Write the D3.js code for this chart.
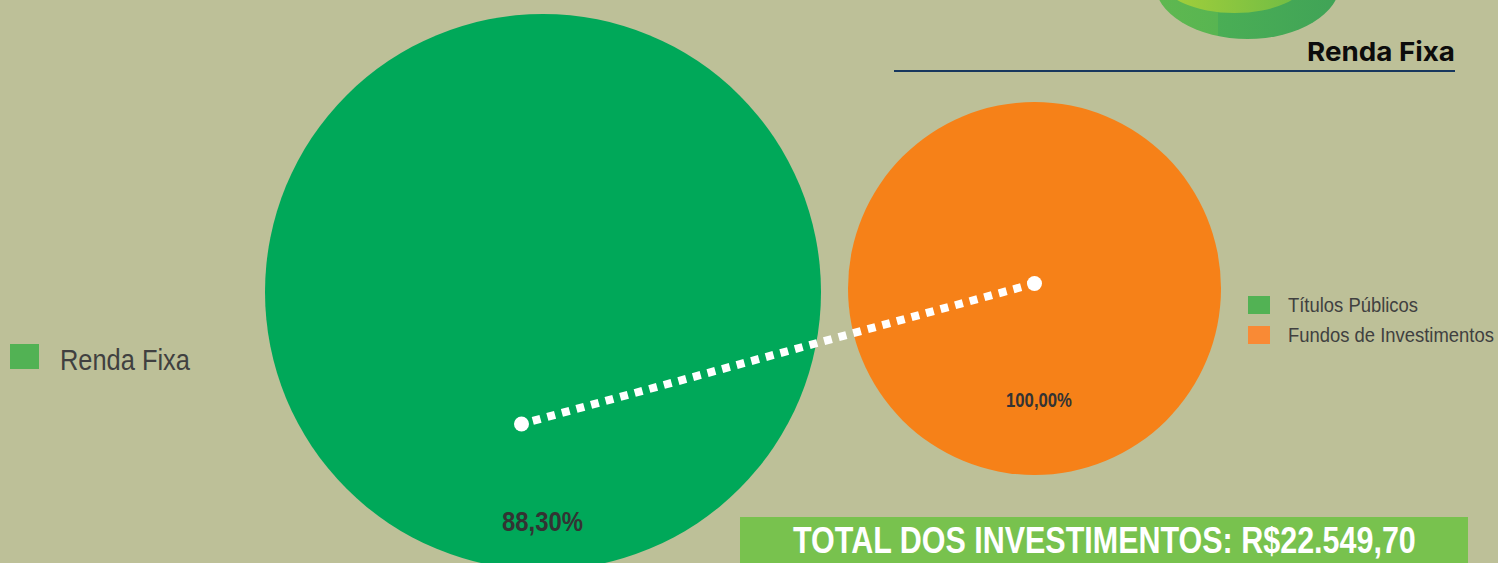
<!DOCTYPE html>
<html>
<head>
<meta charset="utf-8">
<script src="https://cdn.jsdelivr.net/npm/d3@7"></script>
<style>
    html, body { margin: 0; padding: 0; background: #bdc098; overflow: hidden; }
    text { font-family: "Liberation Sans", Arial, sans-serif; }
</style>
</head>
<body>
<div id="chart"></div>
<script>
// Data
const leftCategories = ["Renda Fixa"];
const leftShares = [100];
const leftLabels = ["88,30%"];
const rightCategories = ["Títulos Públicos", "Fundos de Investimentos"];
const rightShares = [0, 100];
const rightLabels = ["100,00%"];
const legendColors = ["#52b254", "#f98a35"];
const title = "Renda Fixa";
const totalText = "TOTAL DOS INVESTIMENTOS: R$22.549,70";

const width = 1498, height = 563;

const svg = d3.select("#chart").append("svg")
    .attr("width", width)
    .attr("height", height)
    .style("display", "block");

svg.append("rect")
    .attr("width", width)
    .attr("height", height)
    .attr("fill", "#bdc098");

// Squeeze a text to the width it has in the picture (no narrow font here)
function fitText(sel, x, y, targetWidth) {
    sel.each(function() {
        let w = this.getComputedTextLength();
        d3.select(this).attr("transform", `translate(${x}, ${y}) scale(${targetWidth / w}, 1)`);
    });
}

// Logo, only the bottom of it is in the frame
const defs = svg.append("defs");
const grad = defs.append("linearGradient").attr("id", "logoSide");
grad.append("stop").attr("offset", "0%").attr("stop-color", "#5fb850");
grad.append("stop").attr("offset", "34%").attr("stop-color", "#58b551");
grad.append("stop").attr("offset", "34%").attr("stop-color", "#4aae55");
grad.append("stop").attr("offset", "100%").attr("stop-color", "#40a357");

const gradTop = defs.append("linearGradient").attr("id", "logoTop");
gradTop.append("stop").attr("offset", "0%").attr("stop-color", "#a5d03a");
gradTop.append("stop").attr("offset", "100%").attr("stop-color", "#6dbb45");

svg.append("ellipse")
    .attr("cx", 1247.5).attr("cy", -17)
    .attr("rx", 92.5).attr("ry", 56)
    .attr("fill", "url(#logoSide)");
svg.append("ellipse")
    .attr("cx", 1234.5).attr("cy", -20)
    .attr("rx", 72).attr("ry", 33)
    .attr("fill", "url(#logoTop)");

// Header
svg.append("text")
    .style("font-family", "Inter, Lato, sans-serif")
    .style("font-size", "26px")
    .style("font-weight", 700)
    .attr("fill", "#0c0c0c")
    .text(title)
    .call(fitText, 1307, 61, 148);

svg.append("line")
    .attr("x1", 894).attr("x2", 1455)
    .attr("y1", 71).attr("y2", 71)
    .attr("stroke", "#17375e")
    .attr("stroke-width", 2);

// Pies
const pie = d3.pie().sort(null);

function drawPie(shares, colors, cx, cy, radius) {
    const arc = d3.arc().innerRadius(0).outerRadius(radius);
    svg.append("g")
        .attr("transform", `translate(${cx}, ${cy})`)
        .selectAll("path")
        .data(pie(shares))
        .enter().append("path")
        .attr("d", arc)
        .attr("fill", (d, i) => colors[i]);
}

drawPie(leftShares, ["#00a859"], 543, 292, 278);
drawPie(rightShares, ["#00a859", "#f68118"], 1034.5, 288.5, 186.5);

// Connector between the two pies
const connector = [[521.5, 424], [1034.5, 283.5]];

svg.append("path")
    .attr("d", d3.line()(connector))
    .attr("stroke", "#fff")
    .attr("stroke-width", 8)
    .attr("stroke-dasharray", "8 7.1")
    .attr("stroke-dashoffset", -11.7)
    .attr("fill", "none");

svg.selectAll(".end-dot")
    .data(connector)
    .enter().append("circle")
    .attr("class", "end-dot")
    .attr("cx", d => d[0])
    .attr("cy", d => d[1])
    .attr("r", 7.5)
    .attr("fill", "#fff");

// Pie labels
svg.append("text")
    .style("font-size", "27px")
    .style("font-weight", 700)
    .attr("fill", "#333")
    .text(leftLabels[0])
    .call(fitText, 502, 531, 81);

svg.append("text")
    .style("font-size", "20px")
    .style("font-weight", 700)
    .attr("fill", "#333")
    .text(rightLabels[0])
    .call(fitText, 1006, 407, 66);

// Left legend
const leftLegend = svg.selectAll(".left-legend")
    .data(leftCategories)
    .enter().append("g")
    .attr("class", "left-legend");

leftLegend.append("rect")
    .attr("x", 10).attr("y", 344)
    .attr("width", 29).attr("height", 25)
    .attr("fill", legendColors[0]);

leftLegend.append("text")
    .style("font-size", "29px")
    .attr("fill", "#404040")
    .text(d => d)
    .call(fitText, 60, 370, 130);

// Right legend
const legendY = d3.scalePoint()
    .domain(rightCategories)
    .range([305, 335]);
const legendWidths = [130, 206];

const rightLegend = svg.selectAll(".right-legend")
    .data(rightCategories)
    .enter().append("g")
    .attr("class", "right-legend")
    .attr("transform", d => `translate(0, ${legendY(d)})`);

rightLegend.append("rect")
    .attr("x", 1248).attr("y", -9)
    .attr("width", 22).attr("height", 18)
    .attr("fill", (d, i) => legendColors[i]);

rightLegend.append("text")
    .style("font-size", "21px")
    .attr("fill", "#404040")
    .text(d => d)
    .each(function(d, i) {
        d3.select(this).call(fitText, 1288, 7, legendWidths[i]);
    });

// Total banner
svg.append("rect")
    .attr("x", 740).attr("y", 517)
    .attr("width", 728).attr("height", 46)
    .attr("fill", "#78c24e");

svg.append("text")
    .style("font-size", "37px")
    .style("font-weight", 700)
    .attr("fill", "#fff")
    .text(totalText)
    .call(fitText, 793, 553, 623);
</script>
</body>
</html>
